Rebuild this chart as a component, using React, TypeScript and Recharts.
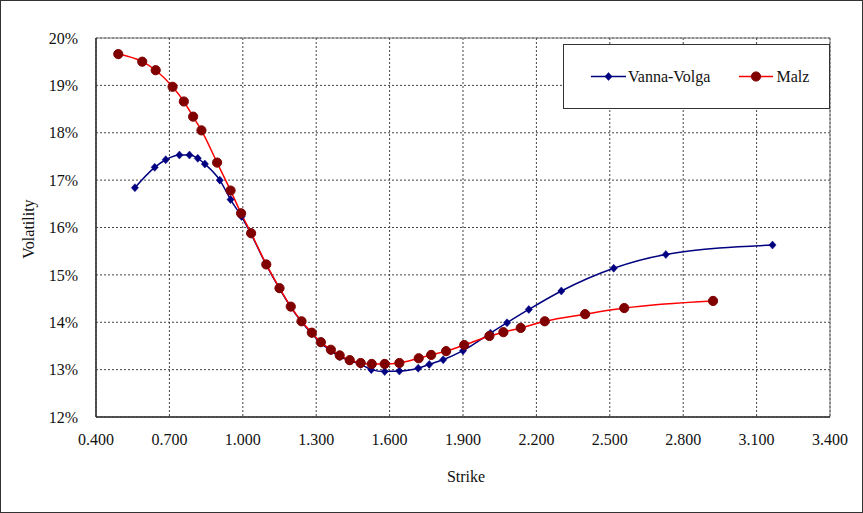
import React from "react";
import {
  LineChart,
  Line,
  XAxis,
  YAxis,
  CartesianGrid,
  ReferenceArea,
} from "recharts";

// strikes and implied vols (in %)
const vvStrike = [
  0.559, 0.64, 0.685, 0.741, 0.782, 0.816, 0.845, 0.906, 0.95, 0.995, 1.034,
  1.096, 1.15, 1.196, 1.24, 1.282, 1.319, 1.36, 1.396, 1.437, 1.482, 1.525,
  1.58, 1.64, 1.717, 1.762, 1.819, 1.9, 2.012, 2.08, 2.169, 2.302, 2.516,
  2.729, 3.165,
];
const vvVol = [
  16.84, 17.27, 17.43, 17.53, 17.53, 17.46, 17.34, 17.0, 16.59, 16.23, 15.86,
  15.21, 14.71, 14.32, 14.01, 13.76, 13.56, 13.4, 13.27, 13.19, 13.11, 13.0,
  12.96, 12.97, 13.03, 13.11, 13.21, 13.4, 13.77, 13.99, 14.27, 14.66, 15.14,
  15.43, 15.63,
];

const malzStrike = [
  0.491, 0.589, 0.644, 0.713, 0.759, 0.797, 0.831, 0.895, 0.95, 0.993, 1.034,
  1.096, 1.15, 1.196, 1.24, 1.282, 1.319, 1.36, 1.396, 1.437, 1.482, 1.527,
  1.58, 1.64, 1.719, 1.77, 1.831, 1.905, 2.008, 2.065, 2.136, 2.234, 2.399,
  2.559, 2.922,
];
const malzVol = [
  19.66, 19.5, 19.32, 18.97, 18.66, 18.34, 18.05, 17.37, 16.78, 16.3, 15.88,
  15.22, 14.72, 14.33, 14.02, 13.78, 13.58, 13.42, 13.3, 13.2, 13.14, 13.12,
  13.12, 13.14, 13.24, 13.31, 13.39, 13.52, 13.71, 13.79, 13.88, 14.02, 14.17,
  14.3, 14.45,
];

const xTicks = [0.4, 0.7, 1.0, 1.3, 1.6, 1.9, 2.2, 2.5, 2.8, 3.1, 3.4];
const yTicks = [12, 13, 14, 15, 16, 17, 18, 19, 20];

const vvData = vvStrike.map((strike, i) => ({ strike, vol: vvVol[i] }));
const malzData = malzStrike.map((strike, i) => ({ strike, vol: malzVol[i] }));

const FONT = "'Liberation Serif', 'Times New Roman', serif";
const NAVY = "#000080";
const RED = "#ff0000";
const MAROON = "#800000";

const Diamond = (props: any) => {
  const { cx, cy } = props;
  if (cx == null || cy == null) return null;
  return (
    <path
      d={`M${cx},${cy - 4}L${cx + 3.6},${cy}L${cx},${cy + 4}L${cx - 3.6},${cy}Z`}
      fill={NAVY}
      stroke={NAVY}
      strokeWidth={0.5}
    />
  );
};

const Circle = (props: any) => {
  const { cx, cy } = props;
  if (cx == null || cy == null) return null;
  return <circle cx={cx} cy={cy} r={4.6} fill={MAROON} stroke={MAROON} />;
};

// legend box sits over the plot, top right, like the Excel original
const LegendBox = () => (
  <div
    style={{
      position: "absolute",
      left: 563,
      top: 44,
      width: 267,
      height: 65,
      border: "1px solid #333",
      boxSizing: "border-box",
      background: "#fff",
    }}
  >
    <svg width={265} height={63} style={{ display: "block" }}>
      <line x1={27} x2={62} y1={31.5} y2={31.5} stroke={NAVY} strokeWidth={1.5} />
      <Diamond cx={44.5} cy={31.5} />
      <text x={64} y={31.5} dy="0.35em" fontFamily={FONT} fontSize={16} fill="#111">
        Vanna-Volga
      </text>
      <line x1={175} x2={209} y1={31.5} y2={31.5} stroke={RED} strokeWidth={1.5} />
      <Circle cx={192} cy={31.5} />
      <text x={212.5} y={31.5} dy="0.35em" fontFamily={FONT} fontSize={16} fill="#111">
        Malz
      </text>
    </svg>
  </div>
);

export default function App() {
  const tickStyle = { fontFamily: FONT, fontSize: 16, fill: "#111" };
  return (
    <div style={{ position: "absolute", left: 0, top: 0, width: 863, height: 513, background: "#fff" }}>
      <LineChart
        width={863}
        height={513}
        margin={{ top: 38, right: 33, bottom: 0, left: 0 }}
      >
        <CartesianGrid stroke="#444" strokeDasharray="2 2" />
        <ReferenceArea
          x1={0.4}
          x2={3.4}
          y1={12}
          y2={20}
          fill="none"
          stroke="#777"
          strokeWidth={1}
          ifOverflow="visible"
        />
        <XAxis
          dataKey="strike"
          type="number"
          domain={[0.4, 3.4]}
          ticks={xTicks}
          allowDataOverflow
          tickFormatter={(v: number) => v.toFixed(3)}
          tick={tickStyle}
          tickLine={false}
          tickSize={0}
          tickMargin={17}
          height={96}
          axisLine={{ stroke: "#333", strokeWidth: 1.5 }}
          label={{
            content: () => (
              <text x={466} y={482} textAnchor="middle" fontFamily={FONT} fontSize={16} fill="#111">
                Strike
              </text>
            ),
          }}
        />
        <YAxis
          dataKey="vol"
          type="number"
          domain={[12, 20]}
          ticks={yTicks}
          allowDataOverflow
          tickFormatter={(v: number) => `${v}%`}
          tick={tickStyle}
          tickLine={false}
          tickSize={0}
          tickMargin={18}
          width={96}
          axisLine={{ stroke: "#333", strokeWidth: 1.5 }}
          label={{
            content: () => (
              <text
                x={30}
                y={229}
                transform="rotate(-90 30 229)"
                textAnchor="middle"
                dominantBaseline="middle"
                fontFamily={FONT}
                fontSize={16}
                fill="#111"
              >
                Volatility
              </text>
            ),
          }}
        />
        <Line
          name="Vanna-Volga"
          data={vvData}
          dataKey="vol"
          type="monotone"
          stroke={NAVY}
          strokeWidth={1.5}
          dot={<Diamond />}
          activeDot={false}
          isAnimationActive={false}
        />
        <Line
          name="Malz"
          data={malzData}
          dataKey="vol"
          type="monotone"
          stroke={RED}
          strokeWidth={1.5}
          dot={<Circle />}
          activeDot={false}
          isAnimationActive={false}
        />
      </LineChart>
      <LegendBox />
      <div
        style={{
          position: "absolute",
          left: 0,
          top: 0,
          width: 863,
          height: 513,
          border: "1px solid #333",
          boxSizing: "border-box",
          pointerEvents: "none",
        }}
      />
    </div>
  );
}
